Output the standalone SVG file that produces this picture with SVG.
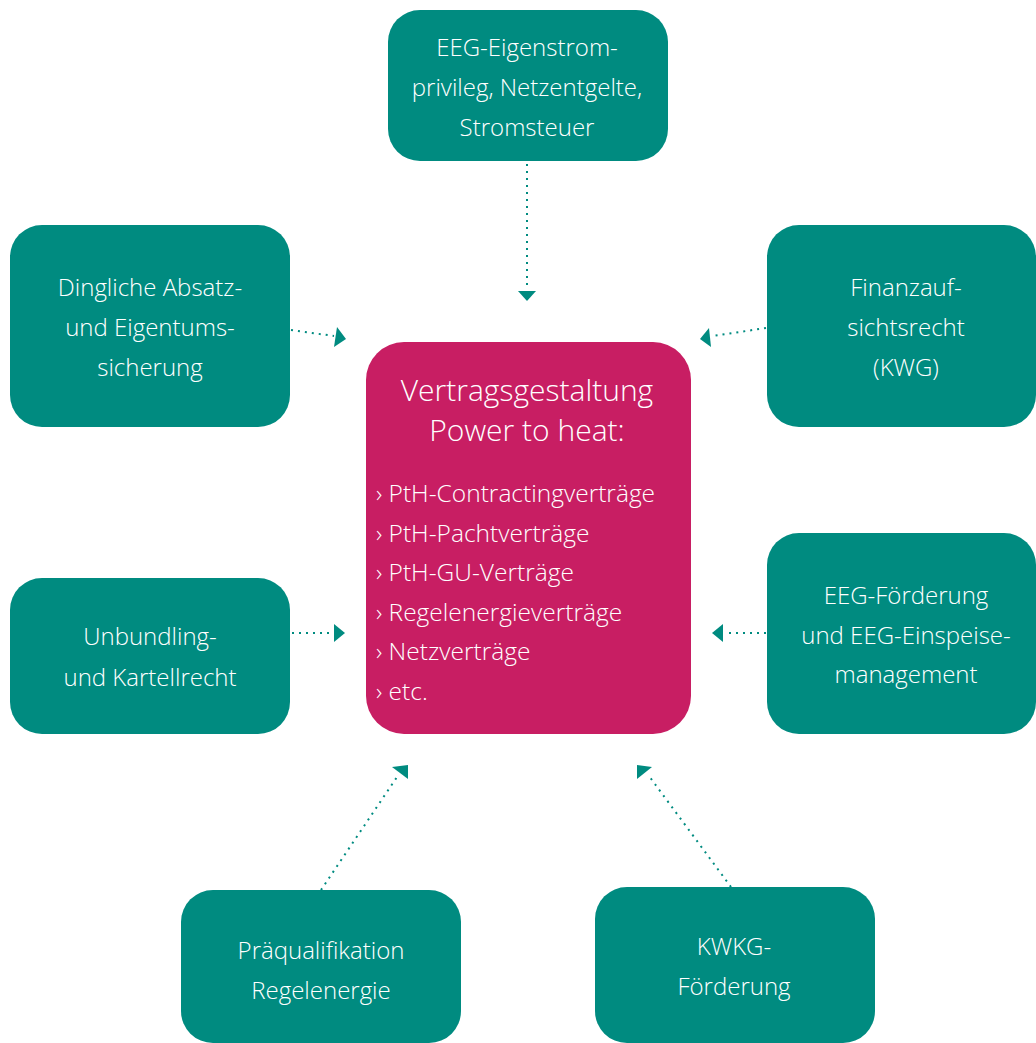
<svg xmlns="http://www.w3.org/2000/svg" width="1036" height="1043" viewBox="0 0 1036 1043">
<style>
.n{fill:#008b80}
.c{fill:#c81e63}
text{font-family:"Open Sans","Noto Sans",sans-serif;font-weight:300;fill:#fff}
.t{font-size:24px;text-anchor:middle}
.h{font-size:30px;text-anchor:middle}
.l{font-size:24.5px}
.e{stroke:#008b80;stroke-width:2;stroke-dasharray:2 5;fill:none}
.a{fill:#008b80}
</style>
<rect width="1036" height="1043" fill="#fff"/>
<g id="connectors">
<line class="e" x1="527" y1="164" x2="527" y2="290"/>
<polygon class="a" points="518,291 536,291 527,301"/>
<line class="e" x1="291" y1="330" x2="334" y2="336"/>
<polygon class="a" points="337,327 346,339 334,347"/>
<line class="e" x1="766" y1="328" x2="713" y2="336"/>
<polygon class="a" points="709,328 700,339 711,347"/>
<line class="e" x1="292" y1="633" x2="334" y2="633"/>
<polygon class="a" points="334,624 345,633 334,642"/>
<line class="e" x1="766" y1="633" x2="724" y2="633"/>
<polygon class="a" points="723,624 712,633 723,642"/>
<line class="e" x1="321" y1="890" x2="397" y2="777"/>
<polygon class="a" points="392,767 408,765 408,779"/>
<line class="e" x1="731" y1="887" x2="649" y2="776"/>
<polygon class="a" points="637,765 652,767 637,779"/>
</g>
<g id="n-top"><rect class="n" x="388" y="10" width="280" height="151" rx="32"/>
<text class="t" x="527" y="56">EEG-Eigenstrom-</text><text class="t" x="527" y="96">privileg, Netzentgelte,</text><text class="t" x="527" y="136">Stromsteuer</text></g>
<g id="n-lt"><rect class="n" x="10" y="225" width="280" height="202" rx="32"/>
<text class="t" x="150" y="296">Dingliche Absatz-</text><text class="t" x="150" y="336">und Eigentums-</text><text class="t" x="150" y="376">sicherung</text></g>
<g id="n-rt"><rect class="n" x="767" y="225" width="269" height="202" rx="32"/>
<text class="t" x="906" y="296">Finanzauf-</text><text class="t" x="906" y="336">sichtsrecht</text><text class="t" x="906" y="376">(KWG)</text></g>
<g id="n-lm"><rect class="n" x="10" y="578" width="280" height="156" rx="32"/>
<text class="t" x="150" y="645">Unbundling-</text><text class="t" x="150" y="686">und Kartellrecht</text></g>
<g id="n-rm"><rect class="n" x="767" y="533" width="269" height="201" rx="32"/>
<text class="t" x="906" y="604">EEG-Förderung</text><text class="t" x="906" y="644">und EEG-Einspeise-</text><text class="t" x="906" y="683">management</text></g>
<g id="n-bl"><rect class="n" x="181" y="890" width="280" height="153" rx="32"/>
<text class="t" x="321" y="959">Präqualifikation</text><text class="t" x="321" y="999">Regelenergie</text></g>
<g id="n-br"><rect class="n" x="595" y="887" width="280" height="156" rx="32"/>
<text class="t" x="734" y="955">KWKG-</text><text class="t" x="734" y="995">Förderung</text></g>
<g id="n-center"><rect class="c" x="366" y="342" width="325" height="392" rx="38"/>
<text class="h" x="527" y="401">Vertragsgestaltung</text><text class="h" x="527" y="441">Power to heat:</text>
<text class="l" x="376" y="502">› PtH-Contractingverträge</text>
<text class="l" x="376" y="542">› PtH-Pachtverträge</text>
<text class="l" x="376" y="581">› PtH-GU-Verträge</text>
<text class="l" x="376" y="621">› Regelenergieverträge</text>
<text class="l" x="376" y="660">› Netzverträge</text>
<text class="l" x="376" y="700">› etc.</text></g>
</svg>
